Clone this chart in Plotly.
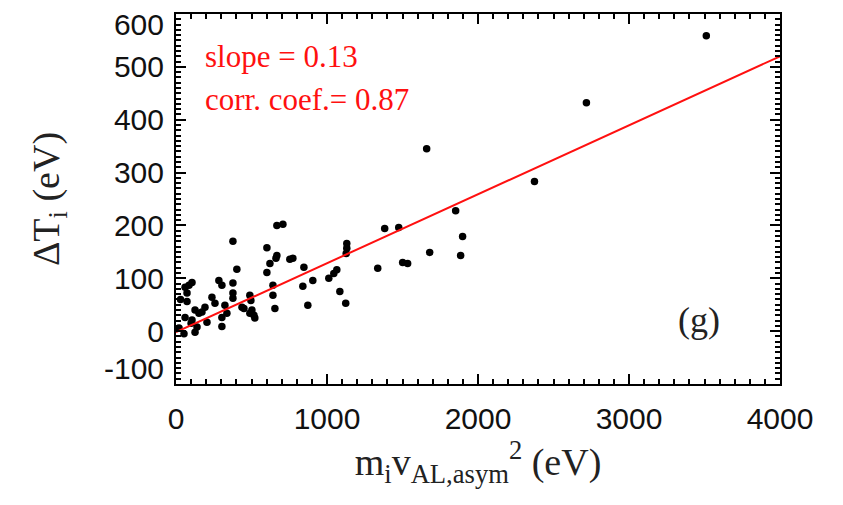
import plotly.graph_objects as go

# Data
x_vals = [3512, 2718, 2374, 1660, 1852, 1898, 1885, 1680, 1501, 1534, 1336, 1382, 1475,
          1131, 1131, 1127, 1065, 1045, 1012, 1085, 1124, 847, 906, 840, 873, 754, 774,
          668, 708, 602, 668, 662, 622, 602, 642, 642, 655, 377, 403, 377, 377, 377,
          284, 304, 238, 258, 324, 337, 304, 304, 450, 489, 496, 503, 516, 522, 489, 437,
          106, 86, 60, 73, 73, 192, 172, 126, 152, 60, 106, 139, 126, 20, 53, 205, 100, 30]
y_vals = [559, 432, 283, 345, 228, 179, 143, 149, 130, 128, 119, 194, 196,
          166, 157, 147, 116, 109, 100, 75, 53, 121, 96, 85, 49, 136, 138,
          200, 202, 158, 143, 138, 128, 111, 87, 68, 43, 170, 117, 91, 72, 62,
          96, 87, 64, 53, 49, 34, 26, 9, 43, 68, 58, 40, 30, 25, 34, 45,
          92, 87, 83, 72, 56, 45, 36, 40, 34, 26, 21, 8, -2, 6, -5, 17, 15, 60]

fit_slope = 0.1305
fit_intercept = -2.0
fit_x = [0, 4000]
fit_y = [fit_intercept + fit_slope * v for v in fit_x]

x_range = [0, 4000]
y_range = [-100, 600]
x_ticks = [0, 1000, 2000, 3000, 4000]
x_ticktext = ["0", "1000", "2000", "3000", "4000"]
y_ticks = [-100, 0, 100, 200, 300, 400, 500, 600]
y_ticktext = ["-100", "0", "100", "200", "300", "400", "500", "600"]
x_minor = list(range(0, 4001, 100))
y_minor = list(range(-100, 601, 10))
# end labels are nudged inward, as in the reference
y_label_pos = [min(max(v, y_range[0] + 30), y_range[1] - 20) for v in y_ticks]

serif = "Liberation Serif, Times New Roman, serif"
sans = "Liberation Sans, Arial, sans-serif"

fig = go.Figure()
# empty traces so the overlay axes (minor ticks / labels) get drawn
fig.add_trace(go.Scatter(x=[], y=[], xaxis="x2", yaxis="y2", showlegend=False, hoverinfo="skip"))
fig.add_trace(go.Scatter(x=[], y=[], xaxis="x3", yaxis="y3", showlegend=False, hoverinfo="skip"))
fig.add_trace(go.Scatter(x=x_vals, y=y_vals, mode="markers",
                         marker=dict(color="black", size=7.5), showlegend=False))
fig.add_trace(go.Scatter(x=fit_x, y=fit_y, mode="lines",
                         line=dict(color="#ff1010", width=2), showlegend=False))

tick_axis = dict(showgrid=False, zeroline=False, showline=True, linecolor="black", linewidth=2,
                 mirror="allticks", ticks="inside", tickcolor="black",
                 showticklabels=False, automargin=False, layer="above traces")
label_axis = dict(showgrid=False, zeroline=False, showline=False, ticks="outside",
                  tickcolor="rgba(0,0,0,0)", automargin=False, ticklabeloverflow="allow",
                  tickfont=dict(family=sans, size=30, color="#111"))

fig.update_layout(
    xaxis=dict(range=x_range, tickmode="array", tickvals=x_ticks, ticklen=10, tickwidth=2,
               **tick_axis),
    yaxis=dict(range=y_range, tickmode="array", tickvals=y_ticks, ticklen=10, tickwidth=2,
               **tick_axis),
    xaxis2=dict(overlaying="x", side="bottom", range=x_range, tickmode="array",
                tickvals=x_minor, ticklen=5, tickwidth=1.5, **tick_axis),
    yaxis2=dict(overlaying="y", side="left", range=y_range, tickmode="array",
                tickvals=y_minor, ticklen=5, tickwidth=1.5, **tick_axis),
    xaxis3=dict(overlaying="x", side="bottom", range=x_range, tickmode="array",
                tickvals=x_ticks, ticktext=x_ticktext, ticklen=8,
                title=dict(text="m<sub>i</sub>v<sub>AL,asym</sub><sup>2</sup> (eV)",
                           font=dict(family=serif, size=38, color="#222"), standoff=0),
                **label_axis),
    yaxis3=dict(overlaying="y", side="left", range=y_range, tickmode="array",
                tickvals=y_label_pos, ticktext=y_ticktext, ticklen=5,
                title=dict(text="ΔT<sub>i</sub> (eV)",
                           font=dict(family=serif, size=38, color="#222"), standoff=32),
                **label_axis),
)

fig.add_annotation(x=0.045, y=0.884, xref="paper", yref="paper", xanchor="left", yanchor="middle",
                   text="slope = 0.13", showarrow=False,
                   font=dict(family=serif, size=31, color="#ff1010"))
fig.add_annotation(x=0.045, y=0.77, xref="paper", yref="paper", xanchor="left", yanchor="middle",
                   text="corr. coef.= 0.87", showarrow=False,
                   font=dict(family=serif, size=31, color="#ff1010"))
fig.add_annotation(x=0.866, y=0.173, xref="paper", yref="paper", xanchor="center", yanchor="middle",
                   text="(g)", showarrow=False,
                   font=dict(family=serif, size=36, color="#222"))

fig.update_layout(width=843, height=505, plot_bgcolor="white", paper_bgcolor="white",
                  margin=dict(l=176, r=63, t=14, b=121), showlegend=False)

fig.write_html("out.html")
